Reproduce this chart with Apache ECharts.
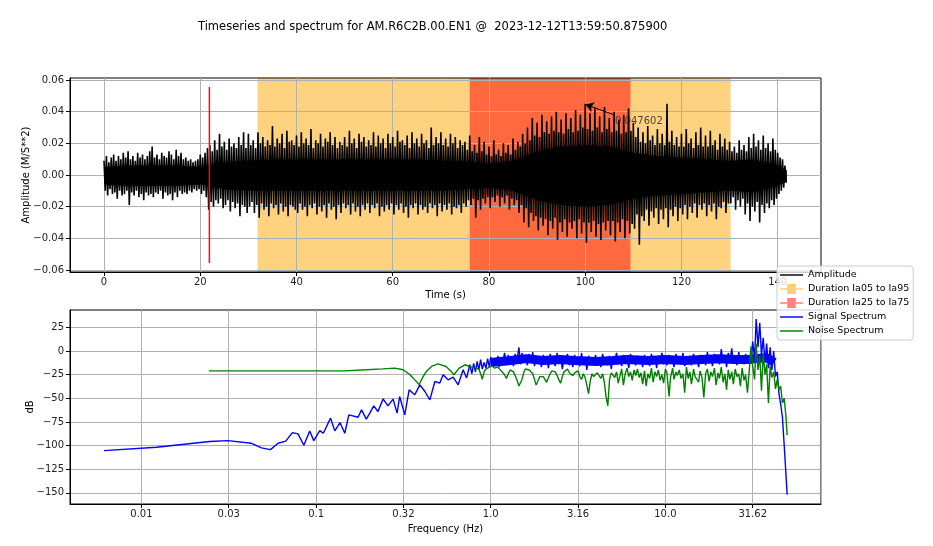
<!DOCTYPE html>
<html>
<head>
<meta charset="utf-8">
<script src="https://cdn.jsdelivr.net/npm/echarts@6/dist/echarts.min.js"></script>
<style>
  html, body { margin: 0; padding: 0; background: #fff; }
  #chart { width: 933px; height: 546px; }
</style>
</head>
<body>
<div id="chart"></div>
<script>
// ---- texts / ticks ----
const titleText = "Timeseries and spectrum for AM.R6C2B.00.EN1 @  2023-12-12T13:59:50.875900";
const timeTicks = [0, 20, 40, 60, 80, 100, 120, 140];
const ampTicks = [-0.06, -0.04, -0.02, 0, 0.02, 0.04, 0.06];
const dbTicks = [-150, -125, -100, -75, -50, -25, 0, 25];
const freqTickVals = [0.01, 0.0316, 0.1, 0.316, 1, 3.16, 10, 31.62];
const freqTickLabels = ["0.01", "0.03", "0.1", "0.32", "1.0", "3.16", "10.0", "31.62"];

// ---- time series: upper / lower peak per 0.5 s ----
const ampTime = [
  0,0.5,1,1.5,2,2.5,3,3.5,4,4.5, 5,5.5,6,6.5,7,7.5,8,8.5,9,9.5,
  10,10.5,11,11.5,12,12.5,13,13.5,14,14.5, 15,15.5,16,16.5,17,17.5,18,18.5,19,19.5,
  20,20.5,21,21.5,22,22.5,23,23.5,24,24.5, 25,25.5,26,26.5,27,27.5,28,28.5,29,29.5,
  30,30.5,31,31.5,32,32.5,33,33.5,34,34.5, 35,35.5,36,36.5,37,37.5,38,38.5,39,39.5,
  40,40.5,41,41.5,42,42.5,43,43.5,44,44.5, 45,45.5,46,46.5,47,47.5,48,48.5,49,49.5,
  50,50.5,51,51.5,52,52.5,53,53.5,54,54.5, 55,55.5,56,56.5,57,57.5,58,58.5,59,59.5,
  60,60.5,61,61.5,62,62.5,63,63.5,64,64.5, 65,65.5,66,66.5,67,67.5,68,68.5,69,69.5,
  70,70.5,71,71.5,72,72.5,73,73.5,74,74.5, 75,75.5,76,76.5,77,77.5,78,78.5,79,79.5,
  80,80.5,81,81.5,82,82.5,83,83.5,84,84.5, 85,85.5,86,86.5,87,87.5,88,88.5,89,89.5,
  90,90.5,91,91.5,92,92.5,93,93.5,94,94.5, 95,95.5,96,96.5,97,97.5,98,98.5,99,99.5,
  100,100.5,101,101.5,102,102.5,103,103.5,104,104.5, 105,105.5,106,106.5,107,107.5,108,108.5,109,109.5,
  110,110.5,111,111.5,112,112.5,113,113.5,114,114.5, 115,115.5,116,116.5,117,117.5,118,118.5,119,119.5,
  120,120.5,121,121.5,122,122.5,123,123.5,124,124.5, 125,125.5,126,126.5,127,127.5,128,128.5,129,129.5,
  130,130.5,131,131.5,132,132.5,133,133.5,134,134.5, 135,135.5,136,136.5,137,137.5,138,138.5,139,139.5,
  140,140.5,141,141.5];
const ampMax = [
  0.009,0.012,0.008,0.011,0.013,0.009,0.012,0.010,0.014,0.011,
  0.015,0.010,0.012,0.009,0.014,0.011,0.013,0.010,0.012,0.015,
  0.018,0.011,0.013,0.010,0.014,0.012,0.011,0.015,0.013,0.010,
  0.016,0.012,0.014,0.010,0.011,0.009,0.010,0.008,0.009,0.010,
  0.013,0.011,0.014,0.017,0.019,0.015,0.022,0.016,0.026,0.018,
  0.021,0.016,0.023,0.018,0.020,0.017,0.024,0.019,0.027,0.017,
  0.026,0.019,0.022,0.017,0.027,0.020,0.024,0.018,0.022,0.019,
  0.031,0.018,0.023,0.020,0.026,0.017,0.028,0.021,0.022,0.019,
  0.025,0.018,0.027,0.020,0.023,0.019,0.029,0.017,0.022,0.020,
  0.026,0.018,0.023,0.021,0.027,0.019,0.024,0.017,0.021,0.019,
  0.024,0.018,0.028,0.020,0.023,0.017,0.026,0.021,0.024,0.018,
  0.022,0.019,0.027,0.018,0.025,0.020,0.023,0.017,0.026,0.020,
  0.024,0.018,0.028,0.021,0.022,0.019,0.025,0.017,0.027,0.020,
  0.023,0.018,0.026,0.020,0.022,0.017,0.030,0.019,0.024,0.020,
  0.027,0.019,0.023,0.018,0.026,0.020,0.024,0.017,0.022,0.019,
  0.021,0.016,0.025,0.015,0.019,0.014,0.024,0.015,0.021,0.013,
  0.018,0.012,0.022,0.013,0.016,0.012,0.020,0.014,0.019,0.013,
  0.023,0.016,0.021,0.018,0.026,0.020,0.030,0.022,0.036,0.025,
  0.033,0.024,0.038,0.027,0.034,0.026,0.037,0.028,0.040,0.027,
  0.035,0.026,0.039,0.029,0.036,0.027,0.041,0.028,0.038,0.030,
  0.045,0.029,0.039,0.028,0.042,0.030,0.037,0.027,0.043,0.029,
  0.036,0.027,0.040,0.028,0.035,0.026,0.038,0.027,0.042,0.028,
  0.033,0.024,0.030,0.021,0.027,0.020,0.031,0.022,0.025,0.019,
  0.029,0.020,0.026,0.019,0.045,0.021,0.028,0.019,0.024,0.018,
  0.026,0.018,0.029,0.020,0.023,0.017,0.027,0.019,0.030,0.018,
  0.025,0.018,0.028,0.019,0.022,0.016,0.026,0.018,0.023,0.016,
  0.021,0.015,0.018,0.014,0.022,0.016,0.019,0.015,0.024,0.017,
  0.026,0.018,0.022,0.016,0.025,0.017,0.020,0.015,0.023,0.016,
  0.014,0.011,0.010,0.006];
const ampMin = [
  -0.010,-0.013,-0.009,-0.012,-0.011,-0.015,-0.010,-0.013,-0.012,-0.010,
  -0.019,-0.011,-0.013,-0.010,-0.014,-0.012,-0.016,-0.011,-0.013,-0.012,
  -0.014,-0.011,-0.012,-0.010,-0.015,-0.011,-0.013,-0.012,-0.016,-0.011,
  -0.014,-0.010,-0.012,-0.011,-0.012,-0.010,-0.011,-0.009,-0.010,-0.009,
  -0.012,-0.010,-0.014,-0.022,-0.017,-0.020,-0.016,-0.018,-0.015,-0.021,
  -0.019,-0.016,-0.023,-0.017,-0.021,-0.018,-0.026,-0.019,-0.020,-0.024,
  -0.020,-0.017,-0.024,-0.019,-0.027,-0.018,-0.022,-0.020,-0.026,-0.018,
  -0.021,-0.019,-0.025,-0.018,-0.023,-0.020,-0.026,-0.019,-0.020,-0.022,
  -0.024,-0.018,-0.022,-0.020,-0.026,-0.019,-0.021,-0.018,-0.025,-0.020,
  -0.023,-0.019,-0.027,-0.018,-0.022,-0.020,-0.028,-0.019,-0.024,-0.018,
  -0.021,-0.019,-0.025,-0.018,-0.023,-0.020,-0.026,-0.019,-0.022,-0.018,
  -0.024,-0.019,-0.021,-0.018,-0.026,-0.020,-0.023,-0.019,-0.022,-0.018,
  -0.025,-0.019,-0.022,-0.018,-0.024,-0.020,-0.027,-0.019,-0.021,-0.018,
  -0.025,-0.019,-0.022,-0.020,-0.024,-0.018,-0.021,-0.019,-0.026,-0.018,
  -0.023,-0.019,-0.022,-0.018,-0.025,-0.020,-0.021,-0.019,-0.024,-0.018,
  -0.020,-0.016,-0.019,-0.015,-0.027,-0.016,-0.022,-0.015,-0.018,-0.014,
  -0.021,-0.014,-0.017,-0.013,-0.020,-0.014,-0.018,-0.013,-0.022,-0.015,
  -0.019,-0.016,-0.024,-0.019,-0.030,-0.021,-0.033,-0.024,-0.029,-0.026,
  -0.035,-0.027,-0.032,-0.028,-0.038,-0.029,-0.034,-0.027,-0.041,-0.030,
  -0.036,-0.028,-0.039,-0.030,-0.034,-0.029,-0.040,-0.028,-0.037,-0.030,
  -0.043,-0.030,-0.036,-0.029,-0.039,-0.031,-0.041,-0.030,-0.035,-0.029,
  -0.038,-0.029,-0.042,-0.030,-0.036,-0.028,-0.040,-0.029,-0.037,-0.031,
  -0.034,-0.025,-0.044,-0.026,-0.029,-0.022,-0.032,-0.023,-0.027,-0.021,
  -0.031,-0.022,-0.028,-0.021,-0.033,-0.022,-0.026,-0.020,-0.029,-0.021,
  -0.025,-0.019,-0.028,-0.020,-0.024,-0.018,-0.027,-0.019,-0.022,-0.018,
  -0.026,-0.019,-0.023,-0.018,-0.028,-0.020,-0.021,-0.017,-0.024,-0.018,
  -0.018,-0.014,-0.022,-0.016,-0.020,-0.015,-0.025,-0.018,-0.029,-0.020,
  -0.023,-0.017,-0.030,-0.019,-0.024,-0.018,-0.021,-0.016,-0.019,-0.015,
  -0.012,-0.010,-0.008,-0.005];

// solid core of the trace (every 5 s)
const coreTime = [0,5,10,15,20,25,30,35,40,45,50,55,60,65,70,75,80,85,90,95,100,105,110,115,120,125,130,135,140,141.9];
const coreHi = [0.005,0.006,0.006,0.006,0.005,0.008,0.009,0.010,0.010,0.010,0.010,0.010,0.010,0.010,0.009,
  0.009,0.007,0.009,0.015,0.018,0.019,0.018,0.014,0.012,0.011,0.010,0.009,0.010,0.006,0.003];
const coreLo = [-0.006,-0.007,-0.007,-0.007,-0.006,-0.009,-0.010,-0.010,-0.010,-0.010,-0.010,-0.010,-0.010,-0.010,-0.010,
  -0.009,-0.008,-0.010,-0.016,-0.019,-0.020,-0.019,-0.015,-0.013,-0.012,-0.011,-0.010,-0.011,-0.007,-0.004];

// durations, pick, annotation
const ia05to95 = [31.9, 130.2];
const ia25to75 = [76.0, 109.4];
const pickTime = 21.9;
const pickAmp = 0.0555;
const annotText = "0.047602";
const annotTextPos = [106.2, 0.0338];
const annotTail = [105.8, 0.0382];
const annotTip = [100.1, 0.0445];

// ---- spectra ----
const sigLowF = [0.0061,0.0122,0.0246,0.0313,0.0427,0.0487,0.0548,0.0606,0.067,0.0732,0.0788,0.0851,0.092,0.097,
  0.105,0.11,0.121,0.128,0.137,0.146,0.154,0.174,0.182,0.194,0.203,0.214,0.226,0.242,0.258,0.276,0.291,0.301,
  0.322,0.341,0.367,0.393,0.42,0.448,0.479,0.511,0.534,0.57,0.609,0.651,0.695,0.727,0.759];
const sigLowDb = [-105.4,-101.8,-95.8,-94.8,-97.6,-102.5,-104.3,-97.6,-95.4,-86.3,-87.7,-99.7,-84.5,-94.8,
  -84.2,-87,-71,-84.5,-75.7,-87,-67.6,-70,-62.2,-72.1,-65.7,-58,-64,-50.6,-58,-50.9,-65.7,-48.1,
  -67.6,-41,-46.3,-35.7,-42.8,-51.6,-32.2,-33.9,-25.1,-30.4,-27.6,-35.7,-19.8,-28.6,-14.5];
const noiseLowF = [0.0243,0.05,0.1,0.146,0.194,0.24,0.282,0.315,0.345,0.37,0.389,0.41,0.428,0.46,0.5,0.555,0.59,0.615,0.66,0.711,0.759];
const noiseLowDb = [-20.9,-20.9,-20.9,-20.9,-19.8,-18.8,-18,-19.8,-25.1,-31,-35.7,-27,-21.6,-16,-13.5,-16.3,-21,-25.1,-18,-14.5,-16.3];

// dense part (0.78 - 49.8 Hz)
const specF = [
  0.78,0.798,0.817,0.836,0.855,0.875,0.895,0.916,0.938,0.96,0.982,
  1.0,1.02,1.05,1.07,1.1,1.12,1.15,1.17,1.2,1.23,1.26,1.29,1.32,1.35,1.38,1.41,1.45,1.48,1.51,1.55,1.58,1.62,1.66,1.7,1.74,1.78,1.82,1.86,1.91,1.95,
  2.0,2.04,2.09,2.14,2.19,2.24,2.29,2.34,2.4,2.45,2.51,2.57,2.63,2.69,2.75,2.82,2.88,2.95,3.02,3.09,3.16,3.24,3.31,3.39,3.47,3.55,3.63,3.72,3.8,3.89,
  3.98,4.07,4.17,4.27,4.37,4.47,4.57,4.68,4.79,4.9,5.01,5.13,5.25,5.37,5.5,5.62,5.75,5.89,6.03,6.17,6.31,6.46,6.61,6.76,6.92,7.08,7.24,7.41,7.59,7.76,
  7.94,8.13,8.32,8.51,8.71,8.91,9.12,9.33,9.55,9.77,10.0,10.2,10.5,10.7,11.0,11.2,11.5,11.7,12.0,12.3,12.6,12.9,13.2,13.5,13.8,14.1,14.5,14.8,15.1,15.5,
  15.8,16.2,16.6,17.0,17.4,17.8,18.2,18.6,19.1,19.5,20.0,20.4,20.9,21.4,21.9,22.4,22.9,23.4,24.0,24.5,25.1,25.7,26.3,26.9,27.5,28.2,28.8,29.5,30.2,30.9,
  31.6,32.4,33.1,33.9,34.7,35.5,36.3,37.2,38.0,38.9,39.8,40.7,41.7,42.7,43.7,44.7,45.7,46.8,47.9,49.0,49.8];
const sigDb = [
  -24,-13,-22,-11,-20,-9,-19,-12,-18,-8,-17,
  -6,-16,-9,-14,-5,-17,-7,-13,-2,-15,-4,-12,-8,-16,-3,-11,4,-14,-2,-10,-6,-15,-3,-12,-1,-16,-5,-13,-7,-17,
  -4,-14,-6,-18,-3,-12,-8,-16,-2,-13,-5,-19,-7,-11,-3,-15,-6,-17,-4,-12,-9,-16,-2,-14,-6,-20,-5,-11,-8,-15,
  -4,-13,-7,-17,-3,-12,-9,-15,-5,-19,-6,-11,-2,-14,-8,-16,-4,-12,-7,-18,-3,-13,-9,-15,-5,-11,-6,-17,-4,-14,
  -8,-16,-3,-12,-6,-18,-5,-11,-2,-14,-7,-15,-4,-13,-9,-17,-3,-12,-6,-14,-2,-16,-8,-11,-5,-15,-3,-13,-7,-17,
  -4,-12,-6,-15,-1,-13,-7,-16,-3,-11,-5,-14,2,-12,-4,-17,-2,-10,3,-13,-6,-15,-1,-12,-5,-14,-3,-11,-6,-13,
  10,-8,34,4,30,-5,14,-12,8,-18,4,-20,0,-27,-22,-45,-56,-70,-100,-130,-152];
const noiseDb = [
  -17,-19,-18,-20,-19,-24,-30,-22,-19,-18,-17,
  -17,-16,-18,-16,-17,-19,-21,-20,-25,-29,-24,-20,-21,-22,-24,-30,-37,-39,-30,-22,-19,-18,-20,-22,-24,-30,-36,-32,-27,-26,
  -27,-30,-33,-28,-24,-21,-19,-22,-26,-30,-34,-27,-22,-20,-19,-23,-21,-26,-23,-25,-21,-27,-30,-24,-28,-36,-45,-31,-24,-27,
  -26,-23,-21,-29,-24,-33,-48,-58,-30,-23,-21,-28,-22,-34,-26,-19,-36,-24,-18,-27,-22,-31,-20,-26,-19,-28,-23,-35,-21,-37,
  -24,-29,-18,-33,-22,-27,-20,-31,-25,-34,-19,-23,-48,-28,-18,-30,-22,-26,-20,-29,-24,-44,-17,-29,-22,-35,-19,-27,-25,-33,
  -21,-28,-49,-24,-19,-32,-22,-27,-18,-36,-23,-29,-17,-33,-24,-41,-20,-30,-22,-35,-19,-27,-24,-37,-18,-31,-25,-44,-21,5,
  -16,-30,8,-20,-5,-42,-2,-25,-14,-55,-16,-28,-22,-40,-30,-41,-37,-55,-50,-69,-89];

// centre of the dense blue band
const sigCoreF = [1.0, 1.3, 1.6, 2, 2.5, 3, 4, 5, 6, 8, 10, 13, 16, 20, 25, 30, 33, 38, 42];
const sigCoreDb = [-12, -10, -8, -10, -9, -10, -11, -10, -9, -10, -9, -10, -9, -8, -9, -9, -8, -7, -12];

// ---- build series data ----
const ampWave = [];
ampTime.forEach((t, i) => {
  ampWave.push([t, ampMax[i]]);
  ampWave.push([t + 0.25, ampMin[i]]);
});
const coreUp = coreTime.map((t, i) => [t, coreHi[i]]);
const coreDown = coreTime.map((t, i) => [t, coreLo[i]]);
const sigData = sigLowF.map((f, i) => [f, sigLowDb[i]]).concat(specF.map((f, i) => [f, sigDb[i]]));
const noiseData = noiseLowF.map((f, i) => [f, noiseLowDb[i]]).concat(specF.map((f, i) => [f, noiseDb[i]]));
const sigCore = sigCoreF.map((f, i) => [f, sigCoreDb[i]]);

const chart = echarts.init(document.getElementById("chart"));

const minus = (s) => s.replace("-", "\u2212");
const lineIcon = "path://M0,0h24v1.5h-24z";
const boxIcon = "path://M0,4.5h7.5v-4.5h9v4.5h7.5v1.5h-7.5v4.5h-9v-4.5h-7.5z";
const labelStyle = { fontSize: 10, color: "#222", fontFamily: "DejaVu Sans" };
const nameStyle = { fontSize: 10, color: "#000", fontFamily: "DejaVu Sans" };
const gridLine = { show: true, lineStyle: { color: "#b0b0b0", width: 1 } };
const tickStyle = { show: true, length: 4, lineStyle: { color: "#000", width: 1 } };
const axisLine = { show: true, onZero: false, lineStyle: { color: "#000", width: 1 } };

const option = {
  animation: false,
  backgroundColor: "#fff",
  textStyle: { fontFamily: "DejaVu Sans" },
  title: {
    text: titleText,
    left: 198,
    top: 21,
    padding: 0,
    textStyle: { fontSize: 11.5, fontWeight: "normal", color: "#000", fontFamily: "DejaVu Sans" },
  },
  legend: {
    orient: "vertical",
    left: 777,
    top: 266,
    padding: [3, 4, 3, 3],
    itemGap: 2,
    itemWidth: 23,
    itemHeight: 10,
    backgroundColor: "rgba(255,255,255,0.8)",
    borderColor: "#cccccc",
    borderWidth: 1,
    borderRadius: 3,
    z: 10,
    textStyle: { fontSize: 9.5, color: "#000", lineHeight: 12, fontFamily: "DejaVu Sans" },
    data: [
      { name: "Amplitude", icon: lineIcon, itemStyle: { color: "#000", borderWidth: 0 } },
      { name: "Duration Ia05 to Ia95", icon: boxIcon, itemStyle: { color: "rgba(255,165,0,0.55)", borderWidth: 0 } },
      { name: "Duration Ia25 to Ia75", icon: boxIcon, itemStyle: { color: "rgba(255,0,0,0.5)", borderWidth: 0 } },
      { name: "Signal Spectrum", icon: lineIcon, itemStyle: { color: "#0000ff", borderWidth: 0 } },
      { name: "Noise Spectrum", icon: lineIcon, itemStyle: { color: "#008000", borderWidth: 0 } },
    ],
  },
  grid: [
    { left: 70, top: 78, width: 751, height: 194, show: true, borderColor: "#000", borderWidth: 1, z: 2 },
    { left: 70, top: 310, width: 751, height: 194, show: true, borderColor: "#000", borderWidth: 1, z: 2 },
  ],
  xAxis: [
    {
      type: "value", gridIndex: 0, min: -7.07, max: 149, z: 2,
      name: "Time (s)", nameLocation: "middle", nameGap: 18, nameTextStyle: nameStyle, nameMoveOverlap: false,
      axisLine: axisLine,
      axisTick: Object.assign({ customValues: timeTicks }, tickStyle),
      axisLabel: Object.assign({ customValues: timeTicks, margin: 5 }, labelStyle),
      splitLine: gridLine,
    },
    {
      type: "log", logBase: Math.sqrt(10), gridIndex: 1, min: 0.0039, max: 77.8, z: 2,
      name: "Frequency (Hz)", nameLocation: "middle", nameGap: 20, nameTextStyle: nameStyle, nameMoveOverlap: false,
      axisLine: axisLine,
      axisTick: tickStyle,
      axisLabel: Object.assign({
        margin: 5,
        showMinLabel: false,
        showMaxLabel: false,
        formatter: (v) => {
          const i = freqTickVals.findIndex((t) => Math.abs(Math.log10(v / t)) < 0.01);
          return i < 0 ? "" : freqTickLabels[i];
        },
      }, labelStyle),
      splitLine: gridLine,
      minorTick: { show: false },
    },
  ],
  yAxis: [
    {
      type: "value", gridIndex: 0, min: -0.06126, max: 0.06126, z: 2,
      name: "Amplitude (M/S**2)", nameLocation: "middle", nameGap: 39, nameTextStyle: nameStyle, nameMoveOverlap: false,
      axisLine: axisLine,
      axisTick: Object.assign({ customValues: ampTicks }, tickStyle),
      axisLabel: Object.assign({
        customValues: ampTicks, margin: 6,
        formatter: (v) => minus(Math.abs(v) < 1e-9 ? "0.00" : v.toFixed(2)),
      }, labelStyle),
      splitLine: gridLine,
    },
    {
      type: "value", gridIndex: 1, min: -161.9, max: 43.5, z: 2,
      name: "dB", nameLocation: "middle", nameGap: 35, nameTextStyle: nameStyle, nameMoveOverlap: false,
      axisLine: axisLine,
      axisTick: Object.assign({ customValues: dbTicks }, tickStyle),
      axisLabel: Object.assign({
        customValues: dbTicks, margin: 6,
        formatter: (v) => minus(String(Math.round(v))),
      }, labelStyle),
      splitLine: gridLine,
    },
  ],
  series: [
    {
      name: "Duration Ia05 to Ia95", type: "line", xAxisIndex: 0, yAxisIndex: 0, data: [], z: 1,
      color: "rgba(255,165,0,0.55)",
      markArea: { silent: true, itemStyle: { color: "#ffd280" }, data: [[{ xAxis: ia05to95[0] }, { xAxis: ia05to95[1] }]] },
    },
    {
      name: "Duration Ia25 to Ia75", type: "line", xAxisIndex: 0, yAxisIndex: 0, data: [], z: 1,
      color: "rgba(255,0,0,0.5)",
      markArea: { silent: true, itemStyle: { color: "#ff6940" }, data: [[{ xAxis: ia25to75[0] }, { xAxis: ia25to75[1] }]] },
    },
    {
      type: "line", xAxisIndex: 0, yAxisIndex: 0, data: coreUp, symbol: "none", z: 3, silent: true,
      lineStyle: { width: 0 }, areaStyle: { color: "#000", opacity: 1 },
    },
    {
      type: "line", xAxisIndex: 0, yAxisIndex: 0, data: coreDown, symbol: "none", z: 3, silent: true,
      lineStyle: { width: 0 }, areaStyle: { color: "#000", opacity: 1 },
    },
    {
      name: "Amplitude", type: "line", xAxisIndex: 0, yAxisIndex: 0, data: ampWave, symbol: "none", z: 3,
      color: "#000", lineStyle: { color: "#000", width: 1.6 },
    },
    {
      type: "line", xAxisIndex: 0, yAxisIndex: 0, symbol: "none", z: 4,
      data: [[pickTime, -pickAmp], [pickTime, pickAmp]],
      lineStyle: { color: "#f01010", width: 1.5 },
    },
    {
      type: "scatter", xAxisIndex: 0, yAxisIndex: 0, z: 5, symbolSize: 0,
      data: [annotTextPos],
      label: { show: true, position: "right", distance: 0, formatter: annotText, fontSize: 10, color: "#222", fontFamily: "DejaVu Sans" },
      markLine: {
        silent: true, symbol: ["none", "arrow"], symbolSize: 8,
        lineStyle: { color: "#000", width: 1, type: "solid" },
        label: { show: false },
        data: [[{ coord: annotTail }, { coord: annotTip }]],
      },
    },
    {
      type: "line", xAxisIndex: 1, yAxisIndex: 1, data: sigCore, symbol: "none", z: 3, silent: true,
      lineStyle: { color: "#0000ff", width: 9, cap: "butt" },
    },
    {
      name: "Signal Spectrum", type: "line", xAxisIndex: 1, yAxisIndex: 1, data: sigData, symbol: "none", z: 3,
      color: "#0000ff", lineStyle: { color: "#0000ff", width: 1.4 },
    },
    {
      name: "Noise Spectrum", type: "line", xAxisIndex: 1, yAxisIndex: 1, data: noiseData, symbol: "none", z: 3,
      color: "#008000", lineStyle: { color: "#008000", width: 1.4 },
    },
  ],
};

chart.setOption(option);
</script>
</body>
</html>
